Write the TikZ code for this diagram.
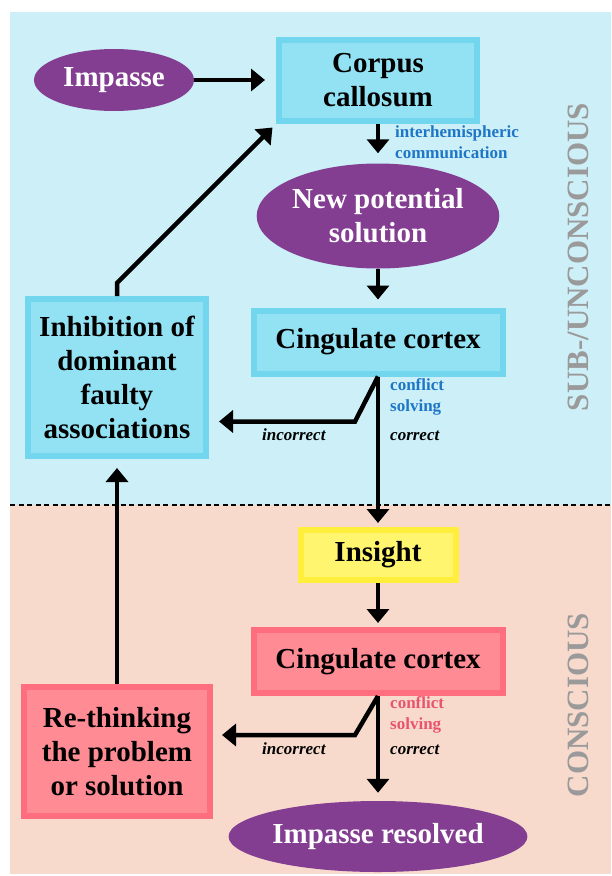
\documentclass[tikz,border=0pt]{standalone}
\usepackage{fontspec}
\setmainfont{Liberation Serif}
\usetikzlibrary{arrows.meta,shapes.geometric,calc}
\definecolor{bgblue}{HTML}{CDEFF8}
\definecolor{bgpink}{HTML}{F8DACD}
\definecolor{purp}{HTML}{833E92}
\definecolor{bxbluef}{HTML}{93E2F4}
\definecolor{bxblued}{HTML}{72D7EE}
\definecolor{bxpinkf}{HTML}{FF8B94}
\definecolor{bxpinkd}{HTML}{FF6E7E}
\definecolor{bxyelf}{HTML}{FFF56E}
\definecolor{bxyeld}{HTML}{FFEF3C}
\definecolor{lblue}{HTML}{1E77C6}
\definecolor{lpink}{HTML}{E8546E}
\definecolor{sidegray}{HTML}{9A9A9A}
\begin{document}
\begin{tikzpicture}[x=1pt,y=-1pt,
  maintext/.style={font=\fontsize{29}{34}\selectfont\bfseries, align=center},
  oval/.style={ellipse, fill=purp, text=white, inner sep=0pt, maintext},
  boxbase/.style={rectangle, line width=6pt, inner sep=0pt, maintext},
  bluebox/.style={boxbase, draw=bxblued, fill=bxbluef},
  pinkbox/.style={boxbase, draw=bxpinkd, fill=bxpinkf},
  yelbox/.style={boxbase, draw=bxyeld, fill=bxyelf},
  arr/.style={line width=4.5pt, -{Triangle[width=22pt,length=14pt]}},
  lab/.style={font=\fontsize{17}{21}\selectfont\bfseries, align=left, inner sep=0pt, anchor=north west},
  ilab/.style={font=\fontsize{17}{21}\selectfont\bfseries\itshape, inner sep=0pt, anchor=base west},
  side/.style={font=\fontsize{31}{31}\selectfont\bfseries, text=sidegray, rotate=90, inner sep=0pt}
]
\useasboundingbox (0,0) rectangle (611,876);
\fill[bgblue] (10,12) rectangle (611,505);
\fill[bgpink] (10,505) rectangle (611,874);
\draw[line width=2pt, dash pattern=on 5pt off 3.5pt] (10,505) -- (611,505);

\node[oval, minimum width=160pt, minimum height=62pt] (imp) at (114,80) {Impasse};
\node[bluebox, minimum width=198pt, minimum height=81pt] (corpus) at (378,80.5) {Corpus\\callosum};
\node[oval, minimum width=240pt, minimum height=105pt] (newsol) at (378,216) {New potential\\solution};
\node[bluebox, minimum width=249pt, minimum height=63pt] (cing) at (378,342) {Cingulate cortex};
\node[bluebox, minimum width=178pt, minimum height=157pt] (inhib) at (117,377.5) {Inhibition of\\dominant\\faulty\\associations};
\node[yelbox, minimum width=155pt, minimum height=50pt] (insight) at (378,555) {Insight};
\node[pinkbox, minimum width=249pt, minimum height=63pt] (pcing) at (378,661.5) {Cingulate cortex};
\node[pinkbox, minimum width=186pt, minimum height=129pt] (rethink) at (117,751.5) {Re-thinking\\the problem\\or solution};
\node[oval, minimum width=265pt, minimum height=71pt] (resolved) at (378,836.5) {Impasse resolved};

\node[side] (subl) at (578,257) {SUB-/UNCONSCIOUS};
\node[side] (conl) at (578,705) {CONSCIOUS};

% arrows
\draw[arr, shorten >=11pt] (imp.east) -- (imp.east -| corpus.west);
\draw[arr, shorten >=10pt] (corpus.south) -- (newsol.north);
\draw[arr, shorten >=8pt] (newsol.south) -- (cing.north);
\draw[arr, shorten >=4pt] (cing.south) -- (insight.north);
\draw[arr, shorten >=4pt] (insight.south) -- (pcing.north);
\draw[arr, shorten >=8pt] (pcing.south) -- (resolved.north);
\draw[arr, shorten >=9pt] (rethink.north) -- (inhib.south);
\draw[arr, shorten >=5pt, line join=miter] (inhib.north) -- ++(0,-13) -- (corpus.south west);
\draw[arr, shorten >=10pt, line join=miter] (cing.south) -- ++(-23,45) coordinate (k1) -- (k1 -| inhib.east);
\draw[arr, shorten >=9pt, line join=miter] (pcing.south) -- ++(-23,39) coordinate (k2) -- (k2 -| rethink.east);

% labels
\node[lab, text=lblue] (lab1) at (395,126) {interhemispheric\\communication};
\node[lab, text=lblue] (lab2) at (390,378) {conflict\\solving};
\node[ilab] (inc1) at (262,440) {incorrect};
\node[ilab] (cor1) at (390,440) {correct};
\node[lab, text=lpink] (lab3) at (390,696) {conflict\\solving};
\node[ilab] (inc2) at (262,754) {incorrect};
\node[ilab] (cor2) at (390,754) {correct};
\end{tikzpicture}
\end{document}
